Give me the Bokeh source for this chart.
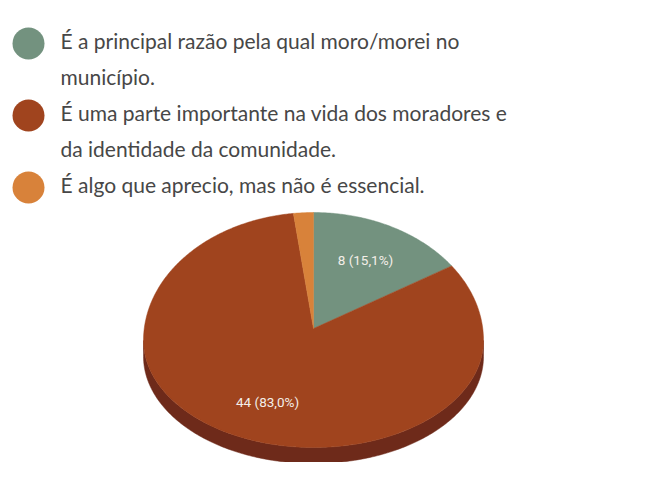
import numpy as np
from bokeh.plotting import figure
from bokeh.models import Range1d
from bokeh.embed import file_html
from bokeh.resources import INLINE
from bokeh.core.properties import value

# ---- data ----
legend_labels = [
    "É a principal razão pela qual moro/morei no\nmunicípio.",
    "É uma parte importante na vida  dos moradores e\nda identidade da comunidade.",
    "É algo que aprecio, mas não é essencial.",
]
counts = [8, 44, 1]
colors = ["#73927f", "#a0441e", "#d8823a"]
side_colors = ["#55705f", "#6e2a1a", "#9c5a22"]

# ---- layout / style ----
W, H = 641, 462
p = figure(width=W, height=H, output_backend="svg", toolbar_location=None,
           x_range=Range1d(0, W), y_range=Range1d(H, 0),
           x_axis_type=None, y_axis_type=None, min_border=0)
p.grid.visible = False
p.outline_line_color = None
p.background_fill_color = "white"

cx, cy = 313.0, 340.0
rx, ry_far, ry_near = 170.0, 128.0, 107.0
ax_, ay_ = 313.0, 328.0
depth = 16.0


def rim(theta_deg):
    t = np.radians(theta_deg)
    u = np.sin(t)
    v = -np.cos(t)
    x = cx + rx * u
    y = cy + np.where(v < 0, ry_far, ry_near) * v
    return x, y


total = float(sum(counts))
starts = np.concatenate([[0.0], np.cumsum(counts)[:-1]]) / total * 360.0
ends = np.cumsum(counts) / total * 360.0

# side band (front half: 90..270 deg)
bxs, bys, bcol = [], [], []
for s, e, c in zip(starts, ends, side_colors):
    a, b = max(s, 90.0), min(e, 270.0)
    if b <= a:
        continue
    th = np.linspace(a, b, 200)
    x, y = rim(th)
    bxs.append(list(x) + list(x[::-1]))
    bys.append(list(y) + list((y + depth)[::-1]))
    bcol.append(c)
p.patches(xs=bxs, ys=bys, fill_color=bcol, line_color=bcol, line_width=0.5)

# top face wedges
wxs, wys = [], []
for s, e in zip(starts, ends):
    th = np.linspace(s, e, max(int((e - s) * 2), 4))
    x, y = rim(th)
    wxs.append([ax_] + list(x))
    wys.append([ay_] + list(y))
p.patches(xs=wxs, ys=wys, fill_color=colors, line_color=colors, line_width=0.5)

# slice labels
lx, ly, lt = [], [], []
for s, e, c in zip(starts, ends, counts):
    pct = c / total * 100
    if pct < 5:
        continue
    m = (s + e) / 2
    rxp, ryp = rim(np.array([m]))
    lx.append(ax_ + 0.67 * (rxp[0] - ax_))
    ly.append(ay_ + 0.67 * (ryp[0] - ay_))
    lt.append(f"{c} ({pct:.1f}%)".replace(".", ","))
p.text(x=lx, y=ly, text=lt, text_align="center", text_baseline="middle",
       text_font=value("Roboto"), text_font_size="13.5px", text_color="#f3eee8")

# legend
line_y0, line_step = 40.0, 36.0
tx, ty, tt, mx, my = [], [], [], [], []
k = 0
for lab in legend_labels:
    lines = lab.split("\n")
    mx.append(28)
    my.append(line_y0 + line_step * k + 3)
    for ln in lines:
        tx.append(60)
        ty.append(line_y0 + line_step * k)
        tt.append(ln)
        k += 1
p.scatter(x=mx, y=my, size=32, marker="circle", fill_color=colors, line_color=None)
p.text(x=tx, y=ty, text=tt, text_align="left", text_baseline="middle",
       text_font=value("Lato"), text_font_size="21px", text_color="#474747")

open("out.html", "w").write(file_html(p, INLINE))
